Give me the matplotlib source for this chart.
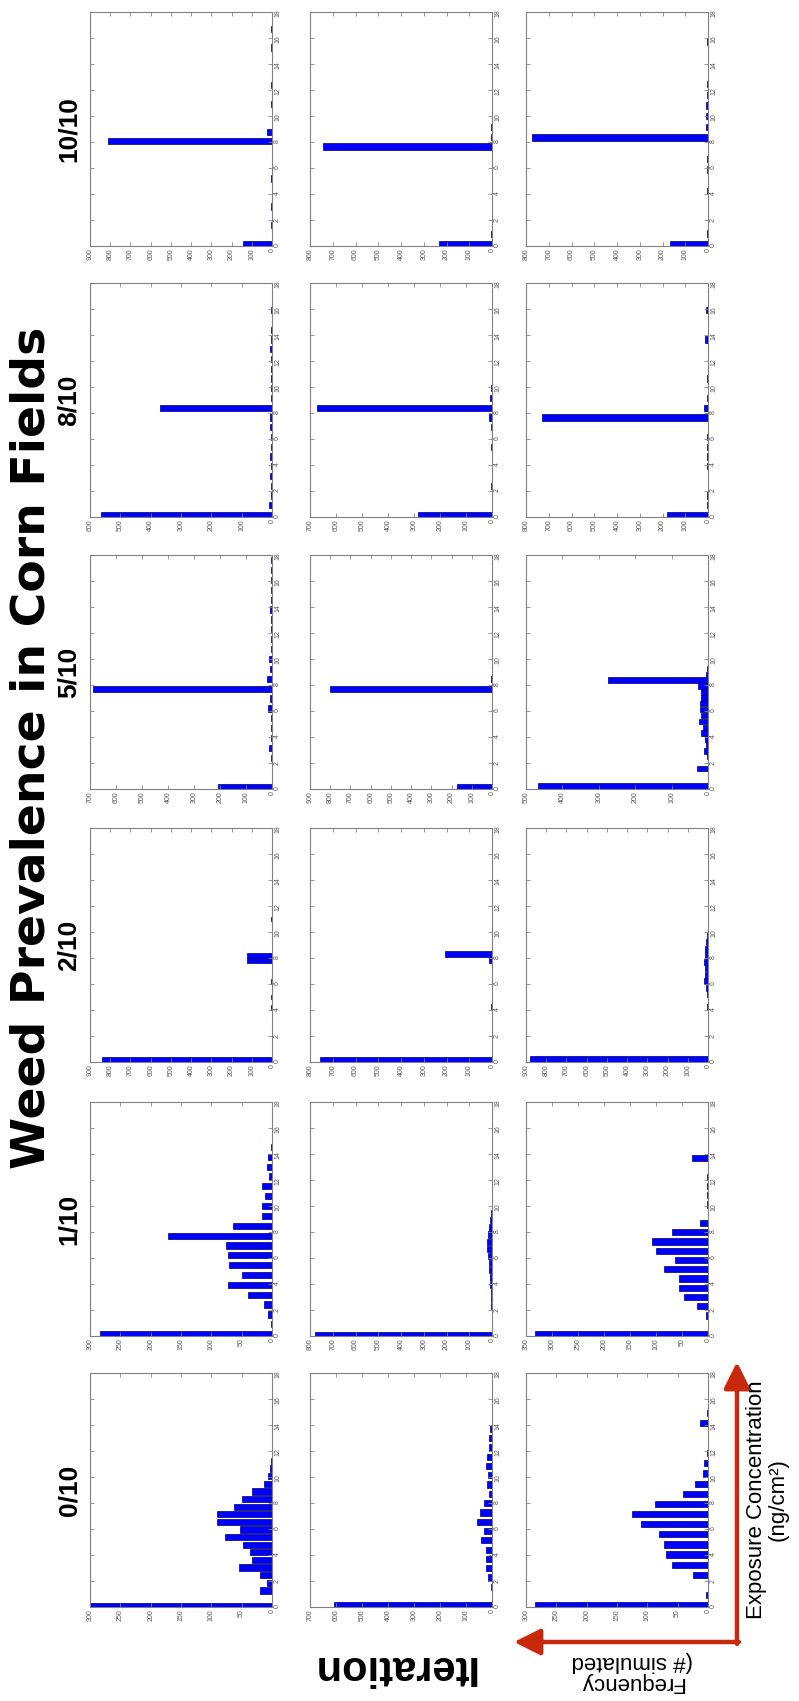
import numpy as np
import matplotlib
matplotlib.use('Agg')
import matplotlib.pyplot as plt
from matplotlib.patches import FancyArrowPatch, ArrowStyle

plt.rcParams['font.family'] = ['Liberation Sans', 'DejaVu Sans']

# weed prevalence levels (one column of histograms each) and the three runs per level
iterations = ['0/10', '1/10', '2/10', '5/10', '8/10', '10/10']

# upper limit of the frequency axis, per level and run
freq_max = [[300, 700, 300],
            [300, 800, 350],
            [900, 800, 900],
            [700, 900, 500],
            [600, 700, 800],
            [900, 800, 800]]

# histogram bins: centre of the first bin and the bin spacing (ng/cm2)
bin_start = [[0.10, 0.12, 0.13],
             [0.14, 0.10, 0.146],
             [0.20, 0.20, 0.20],
             [0.12, 0.12, 0.22],
             [0.15, 0.15, 0.15],
             [0.15, 0.15, 0.15]]
bin_pitch = [[0.586, 0.715, 0.78],
             [0.758, 0.55, 0.712],
             [0.40, 0.45, 0.50],
             [0.76, 0.76, 0.453],
             [0.75, 0.75, 0.75],
             [0.72, 0.75, 0.82]]

# number of simulated fields in each bin
counts_0 = [[300, 0, 20, 9, 19, 54, 33, 36, 48, 77, 52, 91, 91, 63, 49, 33, 13, 7, 3, 2],
            [606, 0, 5, 15, 23, 23, 23, 41, 30, 58, 48, 32, 10, 21, 15, 24, 18, 10, 13, 6],
            [285, 4, 0, 25, 60, 70, 72, 80, 110, 125, 88, 41, 21, 9, 7, 1, 0, 0, 13, 1]]
counts_1 = [[283, 2, 7, 13, 40, 73, 50, 71, 72, 76, 172, 64, 16, 16, 12, 16, 5, 8, 6, 2],
            [776, 0, 0, 0, 3, 4, 5, 8, 10, 13, 15, 18, 22, 20, 16, 13, 8, 3],
            [332, 0, 4, 22, 46, 56, 56, 84, 63, 100, 108, 70, 15, 0, 1, 2, 1, 1, 0, 30]]
counts_2 = [[839, 0, 0, 0, 0, 0, 0, 0, 0, 0, 4, 0, 3, 0, 0, 3, 0, 0, 0, 125, 123,
             0, 0, 0, 0, 0, 0, 3, 0, 0, 1, 0, 1, 0, 2, 0, 1, 0, 1, 0, 1, 0, 1],
            [758, 0, 0, 0, 0, 0, 0, 0, 0, 3, 0, 0, 0, 2, 0, 0, 0, 13, 206, 0, 1, 0, 1],
            [879, 0, 0, 0, 0, 0, 0, 0, 4, 0, 6, 10, 20, 14, 14, 18, 16, 14, 10, 5, 2]]
counts_5 = [[207, 0, 0, 2, 11, 4, 5, 5, 14, 9, 689, 19, 8, 11, 5, 4, 5, 3, 9, 2, 2, 2, 2, 2],
            [173, 1, 0, 0, 0, 0, 0, 0, 0, 2, 799, 3, 0, 2, 0, 0, 1],
            [467, 0, 0, 29, 0, 2, 12, 6, 8, 19, 15, 24, 18, 21, 22, 18, 20, 28, 276, 6, 3]]
counts_8 = [[564, 11, 2, 3, 8, 4, 5, 4, 3, 7, 8, 370, 2, 2, 3, 2, 2, 5, 2, 2, 1, 4, 1],
            [284, 0, 0, 2, 0, 0, 0, 2, 0, 2, 11, 675, 8, 2, 1],
            [182, 4, 3, 2, 2, 3, 3, 4, 4, 2, 728, 18, 3, 2, 3, 2, 2, 2, 12, 2, 2, 9]]
counts_10 = [[143, 2, 3, 2, 3, 2, 2, 3, 2, 2, 2, 809, 25, 2, 2, 3, 2, 3, 2, 2, 2, 3, 2, 7],
             [233, 4, 1, 2, 1, 2, 1, 2, 1, 2, 745, 5, 4, 2, 1, 2, 1, 2, 1, 1, 1, 2],
             [168, 6, 2, 2, 2, 4, 2, 3, 3, 2, 774, 10, 10, 7, 3, 3, 2, 2, 2, 4]]
counts = [counts_0, counts_1, counts_2, counts_5, counts_8, counts_10]

conc_ticks = list(range(0, 19, 2))

# page layout in pixels (the whole sheet is laid out turned on its side)
W, H = 799, 1701
col_left = [90, 310, 526]
row_top = [1373, 1102, 828, 555, 283, 12]   # 0/10 at the bottom, 10/10 at the top
pw, ph = 182, 234
bar_blue = '#0000ff'
arrow_red = '#c8290c'

fig = plt.figure(figsize=(W / 100, H / 100), dpi=100)

for i, it in enumerate(iterations):
    for r in range(3):
        ax = fig.add_axes([col_left[r] / W, 1 - (row_top[i] + ph) / H, pw / W, ph / H])
        c = np.array(counts[i][r], dtype=float)
        pos = bin_start[i][r] + bin_pitch[i][r] * np.arange(len(c))
        keep = c > 0
        thick = min(0.48, 0.92 * bin_pitch[i][r])
        ax.barh(pos[keep], c[keep], height=thick, color=bar_blue,
                edgecolor='#000050', linewidth=0.5)

        fmax = freq_max[i][r]
        step = 50 if fmax <= 350 else 100
        ax.set_xlim(fmax, 0)
        ax.set_ylim(0, 18)
        ax.set_xticks(np.arange(0, fmax + 1, step))
        ax.set_yticks(conc_ticks)
        ax.yaxis.tick_right()
        ax.tick_params(axis='both', direction='in', length=3, width=0.6,
                       color='#888888', labelsize=5, labelcolor='#555555',
                       top=True, bottom=True, left=True, right=True,
                       labelbottom=True, labelright=True, labelleft=False,
                       labeltop=False, pad=1.5, labelrotation=90)
        for s in ax.spines.values():
            s.set_color('#808080')
            s.set_linewidth(0.8)

    # level label, baseline on the right because the text runs upwards
    fig.text(76 / W, 1 - (row_top[i] + ph / 2) / H, it, rotation=90,
             rotation_mode='anchor', fontsize=19, fontweight='bold',
             ha='center', va='baseline')

fig.text(45 / W, 1 - 748 / H, 'Weed Prevalence in Corn Fields', rotation=90,
         rotation_mode='anchor', fontsize=34, fontweight='bold',
         family='DejaVu Sans', ha='center', va='baseline')
fig.text(393 / W, 1 - 1656 / H, 'Iteration', rotation=180, rotation_mode='anchor',
         fontsize=30, fontweight='bold', ha='center', va='baseline')
fig.text(632 / W, 1 - 1672 / H, 'Frequency\n(# simulated', rotation=180,
         fontsize=16, ha='center', va='center', multialignment='center',
         linespacing=1.0)
fig.text(767 / W, 1 - 1500 / H, 'Exposure Concentration\n(ng/cm²)', rotation=90,
         fontsize=16, ha='center', va='center', multialignment='center',
         linespacing=1.05)

# axis arrows in the corner
head = ArrowStyle('-|>', head_length=0.8, head_width=0.4)
corner = (737, 1642)
for tip in [(737, 1362), (514, 1642)]:
    start = (corner[0] + (2 if tip[1] == corner[1] else 0),
             corner[1] + (2 if tip[0] == corner[0] else 0))
    arr = FancyArrowPatch((start[0] / W, 1 - start[1] / H), (tip[0] / W, 1 - tip[1] / H),
                          transform=fig.transFigure, arrowstyle=head,
                          mutation_scale=20, color=arrow_red, lw=3.2,
                          shrinkA=0, shrinkB=0)
    fig.patches.append(arr)

fig.savefig('out.png', dpi=100, facecolor='white')
